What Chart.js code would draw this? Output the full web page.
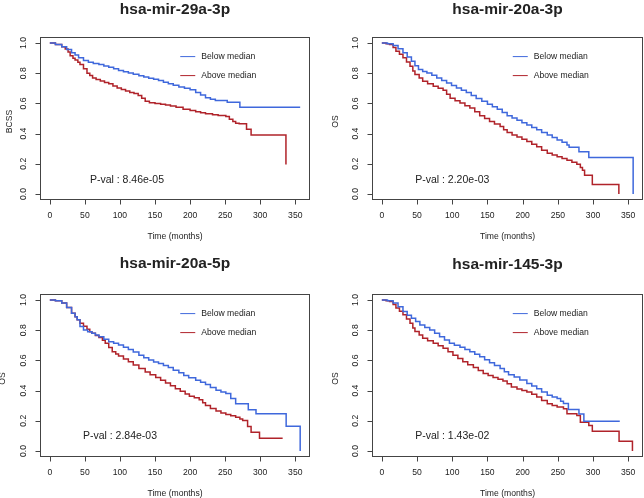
<!DOCTYPE html>
<html>
<head>
<meta charset="utf-8">
<script src="https://cdn.jsdelivr.net/npm/chart.js@4"></script>
<style>
  body { margin: 0; background: #fff; }
  .panel { position: absolute; width: 322px; height: 249px; }
</style>
</head>
<body>
<div class="panel" style="left:0;top:0"><canvas id="c1" width="322" height="249"></canvas></div>
<div class="panel" style="left:322px;top:0"><canvas id="c2" width="322" height="249"></canvas></div>
<div class="panel" style="left:0;top:249px"><canvas id="c3" width="322" height="249"></canvas></div>
<div class="panel" style="left:322px;top:249px"><canvas id="c4" width="322" height="249"></canvas></div>
<script>
// tick labels shared by every panel
const xTicks = [0, 50, 100, 150, 200, 250, 300, 350];
const yTicks = [0, 0.2, 0.4, 0.6, 0.8, 1.0];
const seriesNames = ['Below median', 'Above median'];

// hsa-mir-29a-3p (BCSS)
const mir29aBelowT = [0, 8, 17, 24, 31, 36, 41, 48, 55, 62, 70, 77, 84, 91, 98, 105, 112, 119, 127, 134, 141, 148, 155, 162, 169, 176, 184, 192, 200, 208, 215, 222, 229, 236, 253, 271, 357];
const mir29aBelowS = [1, 0.99, 0.975, 0.957, 0.935, 0.92, 0.902, 0.885, 0.873, 0.865, 0.857, 0.848, 0.84, 0.83, 0.818, 0.81, 0.802, 0.793, 0.784, 0.775, 0.766, 0.76, 0.751, 0.74, 0.731, 0.72, 0.709, 0.70, 0.69, 0.672, 0.655, 0.637, 0.628, 0.62, 0.607, 0.575, 0.575];
const mir29aAboveT = [0, 8, 17, 22, 26, 29, 33, 36, 40, 43, 48, 53, 57, 61, 66, 72, 78, 84, 90, 96, 102, 108, 114, 120, 126, 131, 136, 142, 150, 158, 165, 172, 180, 190, 200, 208, 215, 222, 232, 240, 251, 256, 261, 265, 270, 280.5, 287, 336.7];
const mir29aAboveS = [1, 0.99, 0.975, 0.96, 0.94, 0.915, 0.9, 0.887, 0.872, 0.857, 0.83, 0.8, 0.785, 0.768, 0.758, 0.748, 0.738, 0.73, 0.716, 0.702, 0.692, 0.682, 0.673, 0.665, 0.652, 0.635, 0.614, 0.605, 0.6, 0.595, 0.59, 0.582, 0.575, 0.562, 0.553, 0.545, 0.538, 0.531, 0.525, 0.52, 0.513, 0.495, 0.48, 0.469, 0.465, 0.429, 0.391, 0.195];

// hsa-mir-20a-3p (OS)
const mir20a3BelowT = [0, 8, 16, 23, 30, 36, 42, 47, 52, 58, 64, 71, 78, 85, 92, 99, 106, 113, 120, 127, 134, 142, 150, 157, 164, 171, 178, 185, 192, 199, 206, 213, 220, 227, 235, 242, 249, 256, 263, 266, 280, 294, 357];
const mir20a3BelowS = [1, 0.995, 0.984, 0.962, 0.935, 0.908, 0.88, 0.85, 0.824, 0.812, 0.802, 0.786, 0.769, 0.752, 0.735, 0.719, 0.702, 0.688, 0.672, 0.652, 0.632, 0.615, 0.595, 0.578, 0.562, 0.54, 0.518, 0.503, 0.488, 0.472, 0.457, 0.44, 0.425, 0.408, 0.391, 0.374, 0.357, 0.342, 0.324, 0.309, 0.28, 0.242, 0];
const mir20a3AboveT = [0, 6, 11, 16, 20, 25, 30, 35, 40, 44, 47, 53, 58, 65, 73, 80, 87, 92, 97, 104, 111, 118, 125, 132, 139, 146, 153, 160, 168, 173, 178, 185, 192, 199, 206, 213, 220, 227, 235, 242, 249, 256, 263, 270, 277, 282, 285, 288, 299, 336.7];
const mir20a3AboveS = [1, 0.995, 0.99, 0.97, 0.946, 0.925, 0.902, 0.875, 0.847, 0.815, 0.791, 0.768, 0.747, 0.73, 0.713, 0.7, 0.687, 0.66, 0.635, 0.618, 0.602, 0.585, 0.569, 0.545, 0.518, 0.5, 0.48, 0.463, 0.447, 0.425, 0.407, 0.39, 0.377, 0.362, 0.347, 0.33, 0.313, 0.29, 0.269, 0.258, 0.247, 0.235, 0.224, 0.21, 0.197, 0.175, 0.157, 0.124, 0.062, 0];

// hsa-mir-20a-5p (OS)
const mir20a5BelowT = [0, 8, 17, 24, 31, 36, 39, 43, 48, 54, 60, 65, 70, 77, 84, 91, 98, 105, 112, 119, 127, 134, 141, 148, 155, 162, 169, 176, 184, 191, 198, 208, 215, 222, 229, 237, 244, 251, 258, 265, 283, 294, 337, 357];
const mir20a5BelowS = [1, 0.995, 0.98, 0.95, 0.913, 0.89, 0.869, 0.824, 0.802, 0.79, 0.78, 0.768, 0.757, 0.74, 0.724, 0.713, 0.702, 0.688, 0.673, 0.655, 0.635, 0.618, 0.602, 0.59, 0.58, 0.566, 0.553, 0.535, 0.518, 0.5, 0.485, 0.469, 0.455, 0.44, 0.42, 0.402, 0.39, 0.38, 0.347, 0.313, 0.273, 0.247, 0.164, 0];
const mir20a5AboveT = [0, 8, 17, 24, 31, 36, 39, 43, 48, 53, 57, 60, 65, 70, 75, 79, 84, 89, 94, 98, 105, 112, 119, 127, 136, 143, 151, 158, 165, 172, 179, 186, 193, 199, 206, 213, 218, 222, 229, 237, 244, 251, 258, 265, 271, 275, 282, 287, 299, 332];
const mir20a5AboveS = [1, 0.995, 0.98, 0.95, 0.913, 0.89, 0.869, 0.847, 0.827, 0.807, 0.79, 0.78, 0.765, 0.751, 0.733, 0.713, 0.685, 0.658, 0.642, 0.629, 0.61, 0.591, 0.569, 0.547, 0.524, 0.505, 0.487, 0.468, 0.451, 0.432, 0.413, 0.395, 0.378, 0.362, 0.352, 0.34, 0.32, 0.302, 0.282, 0.264, 0.252, 0.242, 0.233, 0.224, 0.212, 0.202, 0.162, 0.124, 0.084, 0.084];

// hsa-mir-145-3p (OS)
const mir145BelowT = [0, 8, 16, 23, 30, 36, 42, 48, 54, 61, 68, 75, 82, 89, 96, 103, 111, 118, 125, 132, 139, 146, 153, 160, 168, 174, 180, 188, 196, 206, 213, 220, 227, 235, 242, 249, 254, 258, 265, 280, 287, 338];
const mir145BelowS = [1, 0.995, 0.98, 0.955, 0.924, 0.9, 0.88, 0.857, 0.835, 0.818, 0.802, 0.78, 0.757, 0.735, 0.713, 0.7, 0.687, 0.672, 0.658, 0.641, 0.624, 0.604, 0.584, 0.566, 0.547, 0.525, 0.505, 0.49, 0.47, 0.447, 0.43, 0.413, 0.39, 0.369, 0.358, 0.347, 0.33, 0.315, 0.275, 0.245, 0.197, 0.197];
const mir145AboveT = [0, 6, 11, 16, 20, 25, 30, 35, 40, 44, 47, 53, 58, 65, 73, 80, 87, 94, 101, 108, 115, 122, 130, 137, 144, 151, 158, 165, 172, 178, 184, 192, 199, 206, 213, 220, 227, 235, 242, 249, 258, 263, 277, 282, 294, 299, 337, 356];
const mir145AboveS = [1, 0.995, 0.99, 0.97, 0.947, 0.925, 0.902, 0.875, 0.847, 0.815, 0.791, 0.768, 0.747, 0.73, 0.713, 0.697, 0.68, 0.657, 0.635, 0.613, 0.591, 0.572, 0.553, 0.533, 0.513, 0.5, 0.487, 0.475, 0.464, 0.445, 0.424, 0.41, 0.4, 0.391, 0.375, 0.358, 0.335, 0.313, 0.302, 0.291, 0.28, 0.247, 0.235, 0.191, 0.169, 0.131, 0.064, 0];

const BLUE = '#3f68dc';
const RED = '#b0232a';
const INK = '#222';
const FONT = '"Liberation Sans", Arial, Helvetica, sans-serif';

function kmPoints(t, s) {
  return t.map((x, i) => ({ x: x, y: s[i] }));
}

// draws the R base-graphics look: box, outward ticks, rotated y labels, title, legend, p-value
const rStyle = {
  id: 'rStyle',
  afterDraw(chart, args, o) {
    const ctx = chart.ctx;
    const a = chart.chartArea;
    const xs = chart.scales.x, ys = chart.scales.y;
    ctx.save();

    ctx.strokeStyle = '#444';
    ctx.lineWidth = 1;
    ctx.strokeRect(Math.round(a.left) + 0.5, Math.round(a.top) + 0.5, Math.round(a.right - a.left) - 1, Math.round(a.bottom - a.top) - 1);

    ctx.fillStyle = INK;
    ctx.font = '8.6px ' + FONT;

    // x axis
    ctx.beginPath();
    ctx.strokeStyle = '#444';
    const bx = Math.round(a.bottom) - 0.5;
    xs.ticks.forEach(t => {
      const px = Math.round(xs.getPixelForValue(t.value)) + 0.5;
      ctx.moveTo(px, bx);
      ctx.lineTo(px, bx + 5);
    });
    ctx.stroke();
    ctx.textAlign = 'center';
    ctx.textBaseline = 'middle';
    xs.ticks.forEach(t => {
      ctx.fillText(String(t.value), xs.getPixelForValue(t.value), a.bottom + 16);
    });
    ctx.fillText('Time (months)', (a.left + a.right) / 2, a.bottom + 37);

    // y axis
    ctx.beginPath();
    const lx = Math.round(a.left) + 0.5;
    ys.ticks.forEach(t => {
      const py = Math.round(ys.getPixelForValue(t.value)) + 0.5;
      ctx.moveTo(lx, py);
      ctx.lineTo(lx - 5, py);
    });
    ctx.stroke();
    ys.ticks.forEach(t => {
      ctx.save();
      ctx.translate(a.left - 16, ys.getPixelForValue(t.value));
      ctx.rotate(-Math.PI / 2);
      ctx.fillText(t.value.toFixed(1), 0, 0);
      ctx.restore();
    });
    ctx.save();
    ctx.translate(a.left - o.ylabOffset, (a.top + a.bottom) / 2 + 3);
    ctx.rotate(-Math.PI / 2);
    ctx.fillText(o.ylab, 0, 0);
    ctx.restore();

    // title
    ctx.font = 'bold 15.5px ' + FONT;
    ctx.fillText(o.title, (a.left + a.right) / 2, o.titleY);

    // legend, no box
    ctx.font = '8.6px ' + FONT;
    ctx.textAlign = 'left';
    const lgx = xs.getPixelForValue(186);
    chart.data.datasets.forEach((ds, i) => {
      const ly = a.top + 19.6 + i * 19;
      ctx.strokeStyle = ds.borderColor;
      ctx.lineWidth = 1;
      ctx.beginPath();
      ctx.moveTo(lgx, ly);
      ctx.lineTo(lgx + 15, ly);
      ctx.stroke();
      ctx.fillText(ds.label, lgx + 21, ly);
    });

    // p-value
    ctx.font = '10.5px ' + FONT;
    ctx.textAlign = 'center';
    ctx.fillText(o.pval, xs.getPixelForValue(o.pvalX), ys.getPixelForValue(o.pvalY));

    ctx.restore();
  }
};

function makePanel(id, p) {
  new Chart(document.getElementById(id), {
    type: 'line',
    data: {
      datasets: [
        { label: seriesNames[0], data: kmPoints(p.belowT, p.belowS), borderColor: BLUE },
        { label: seriesNames[1], data: kmPoints(p.aboveT, p.aboveS), borderColor: RED }
      ]
    },
    options: {
      responsive: false,
      animation: false,
      layout: { padding: p.pad },
      datasets: {
        line: { stepped: true, pointRadius: 0, borderWidth: 1.5, fill: false }
      },
      scales: {
        x: {
          type: 'linear', display: false, min: -14, max: 371,
          afterBuildTicks: s => { s.ticks = xTicks.map(v => ({ value: v })); }
        },
        y: {
          type: 'linear', display: false, min: -0.04, max: 1.04,
          afterBuildTicks: s => { s.ticks = yTicks.map(v => ({ value: v })); }
        }
      },
      plugins: {
        legend: { display: false },
        tooltip: { enabled: false },
        rStyle: p.style
      }
    },
    plugins: [rStyle]
  });
}

makePanel('c1', {
  belowT: mir29aBelowT, belowS: mir29aBelowS, aboveT: mir29aAboveT, aboveS: mir29aAboveS,
  pad: { left: 40, top: 37, right: 12, bottom: 49 },
  style: { title: 'hsa-mir-29a-3p', titleY: 10, ylab: 'BCSS', ylabOffset: 30, pval: 'P-val : 8.46e-05', pvalX: 110, pvalY: 0.091 }
});
makePanel('c2', {
  belowT: mir20a3BelowT, belowS: mir20a3BelowS, aboveT: mir20a3AboveT, aboveS: mir20a3AboveS,
  pad: { left: 50, top: 37, right: 1, bottom: 49 },
  style: { title: 'hsa-mir-20a-3p', titleY: 10, ylab: 'OS', ylabOffset: 36, pval: 'P-val : 2.20e-03', pvalX: 100, pvalY: 0.095 }
});
makePanel('c3', {
  belowT: mir20a5BelowT, belowS: mir20a5BelowS, aboveT: mir20a5AboveT, aboveS: mir20a5AboveS,
  pad: { left: 40, top: 45, right: 12, bottom: 41 },
  style: { title: 'hsa-mir-20a-5p', titleY: 15, ylab: 'OS', ylabOffset: 37, pval: 'P-val : 2.84e-03', pvalX: 100, pvalY: 0.098 }
});
makePanel('c4', {
  belowT: mir145BelowT, belowS: mir145BelowS, aboveT: mir145AboveT, aboveS: mir145AboveS,
  pad: { left: 50, top: 45, right: 1, bottom: 41 },
  style: { title: 'hsa-mir-145-3p', titleY: 16, ylab: 'OS', ylabOffset: 36, pval: 'P-val : 1.43e-02', pvalX: 100, pvalY: 0.098 }
});
</script>
</body>
</html>
